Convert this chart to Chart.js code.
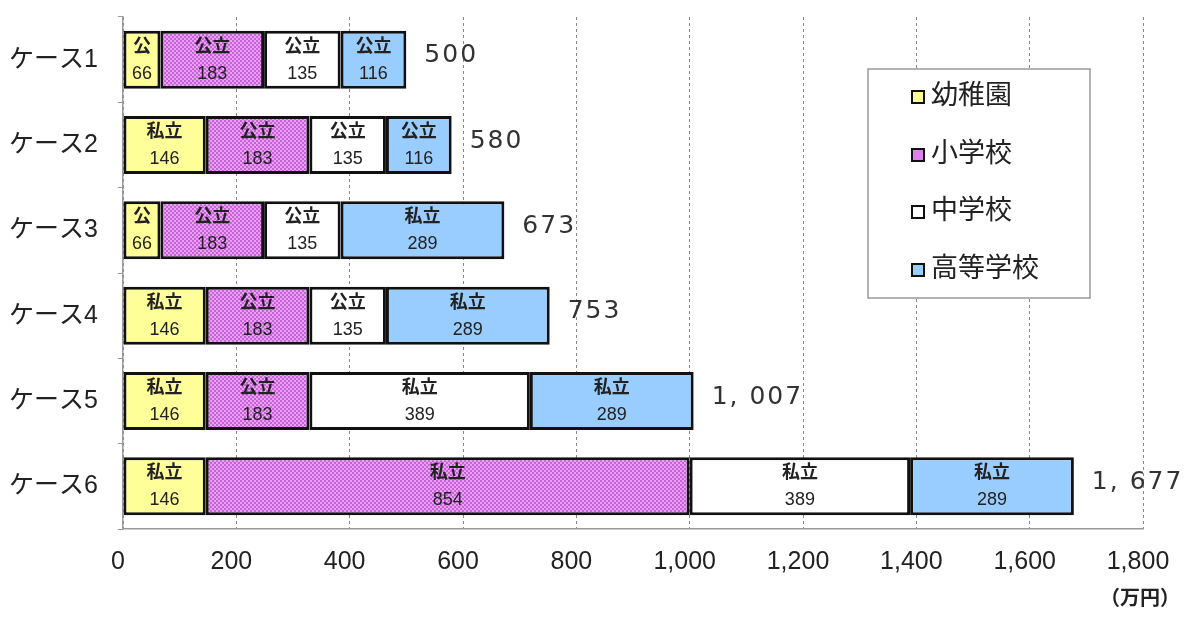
<!DOCTYPE html>
<html>
<head>
<meta charset="utf-8">
<script src="https://cdn.jsdelivr.net/npm/chart.js@4"></script>
<style>
  html, body { margin: 0; padding: 0; background: #fff; }
  #wrap { width: 1200px; height: 623px; }
</style>
</head>
<body>
<div id="wrap"><canvas id="chart" width="1200" height="623"></canvas></div>
<script>
// データ
const cases = ["ケース1", "ケース2", "ケース3", "ケース4", "ケース5", "ケース6"];
const seriesNames = ["幼稚園", "小学校", "中学校", "高等学校"];
const kindergarten = [66, 146, 66, 146, 146, 146];
const elementary = [183, 183, 183, 183, 183, 854];
const juniorHigh = [135, 135, 135, 135, 389, 389];
const highSchool = [116, 116, 289, 289, 289, 289];
// 公立・私立の区分（バー内の表示）
const kindergartenType = ["公", "私立", "公", "私立", "私立", "私立"];
const elementaryType = ["公立", "公立", "公立", "公立", "公立", "私立"];
const juniorHighType = ["公立", "公立", "公立", "公立", "私立", "私立"];
const highSchoolType = ["公立", "公立", "私立", "私立", "私立", "私立"];
const totalLabels = ["500", "580", "673", "753", "1, 007", "1, 677"];
const unitLabel = "（万円）";

const JP = '"Liberation Sans", "Noto Sans CJK JP", sans-serif';
const WIDE = '"DejaVu Sans", "Noto Sans CJK JP", sans-serif';

// 小学校の網掛けパターン
function makePattern() {
  const c = document.createElement("canvas");
  c.width = 4; c.height = 4;
  const g = c.getContext("2d");
  g.fillStyle = "#e9a2f3";
  g.fillRect(0, 0, 4, 4);
  g.fillStyle = "#c860dc";
  g.fillRect(0, 0, 2, 2);
  g.fillRect(2, 2, 2, 2);
  return g.createPattern(c, "repeat");
}
const ctx = document.getElementById("chart").getContext("2d");
const pinkPattern = makePattern();

const colors = ["#ffff99", pinkPattern, "#ffffff", "#99ccff"];
const legendSwatch = ["#ffff99", "#dd80ee", "#ffffff", "#99ccff"];
const values = [kindergarten, elementary, juniorHigh, highSchool];
const types = [kindergartenType, elementaryType, juniorHighType, highSchoolType];

// バー内ラベルと合計
const labelPlugin = {
  id: "barLabels",
  afterDatasetsDraw(chart) {
    const c = chart.ctx;
    c.save();
    c.textAlign = "center";
    c.textBaseline = "middle";
    chart.data.datasets.forEach((ds, di) => {
      const meta = chart.getDatasetMeta(di);
      meta.data.forEach((bar, i) => {
        const cx = (bar.x + bar.base) / 2;
        c.fillStyle = "#222";
        c.font = "bold 18px " + JP;
        c.fillText(types[di][i], cx, bar.y - 13);
        c.font = "18px " + JP;
        c.fillText(String(ds.data[i]), cx, bar.y + 14);
      });
    });
    // 合計
    const last = chart.getDatasetMeta(chart.data.datasets.length - 1);
    c.textAlign = "left";
    c.font = "25px " + WIDE;
    c.letterSpacing = "2px";
    c.fillStyle = "#333";
    last.data.forEach((bar, i) => {
      c.fillText(totalLabels[i], bar.x + 18, bar.y - 4);
    });
    c.letterSpacing = "0px";
    // 単位
    c.textAlign = "right";
    c.font = "bold 20px " + JP;
    c.fillStyle = "#222";
    c.fillText(unitLabel, 1180, 599);
    c.restore();
  }
};

// 凡例（枠付き）
const legendPlugin = {
  id: "boxLegend",
  afterDraw(chart) {
    const c = chart.ctx;
    c.save();
    c.fillStyle = "#fff";
    c.fillRect(868, 69, 222, 229);
    c.strokeStyle = "#999";
    c.lineWidth = 1.5;
    c.strokeRect(868, 69, 222, 229);
    const ys = [97, 155, 212, 270];
    seriesNames.forEach((name, i) => {
      c.fillStyle = legendSwatch[i];
      c.fillRect(912, ys[i] - 6, 12, 12);
      c.strokeStyle = "#111";
      c.lineWidth = 2;
      c.strokeRect(912, ys[i] - 6, 12, 12);
      c.fillStyle = "#222";
      c.font = "27px " + JP;
      c.textAlign = "left";
      c.textBaseline = "middle";
      c.fillText(name, 931, ys[i]);
    });
    c.restore();
  }
};

new Chart(ctx, {
  type: "bar",
  data: {
    labels: cases,
    datasets: seriesNames.map((name, i) => ({
      label: name,
      data: values[i],
      backgroundColor: colors[i],
      borderColor: "#111",
      borderWidth: 3,
      borderSkipped: false,
      barPercentage: 0.68,
      categoryPercentage: 1
    }))
  },
  options: {
    indexAxis: "y",
    responsive: false,
    animation: false,
    layout: { padding: { top: 17, right: 57, left: 0, bottom: 0 } },
    plugins: {
      legend: { display: false },
      tooltip: { enabled: false }
    },
    scales: {
      x: {
        stacked: true,
        min: 0,
        max: 1800,
        ticks: {
          stepSize: 200,
          color: "#222",
          font: { size: 25, family: JP },
          padding: 18,
          labelOffset: -5,
          callback: (v) => v.toLocaleString("en-US")
        },
        grid: { color: "#888", lineWidth: 1, drawTicks: false },
        border: { color: "#999", width: 1.5, dash: [3, 3] },
        afterFit: (s) => { s.height = 94; }
      },
      y: {
        stacked: true,
        ticks: {
          color: "#222",
          font: { size: 25, family: JP },
          padding: 20
        },
        grid: { drawOnChartArea: false, tickLength: 5, color: "#999" },
        border: { color: "#999", width: 1.5 },
        afterFit: (s) => {
          s.width = 123;
          s.paddingTop = 0;
          s.paddingBottom = 0;
        }
      }
    }
  },
  plugins: [labelPlugin, legendPlugin]
});
</script>
</body>
</html>
